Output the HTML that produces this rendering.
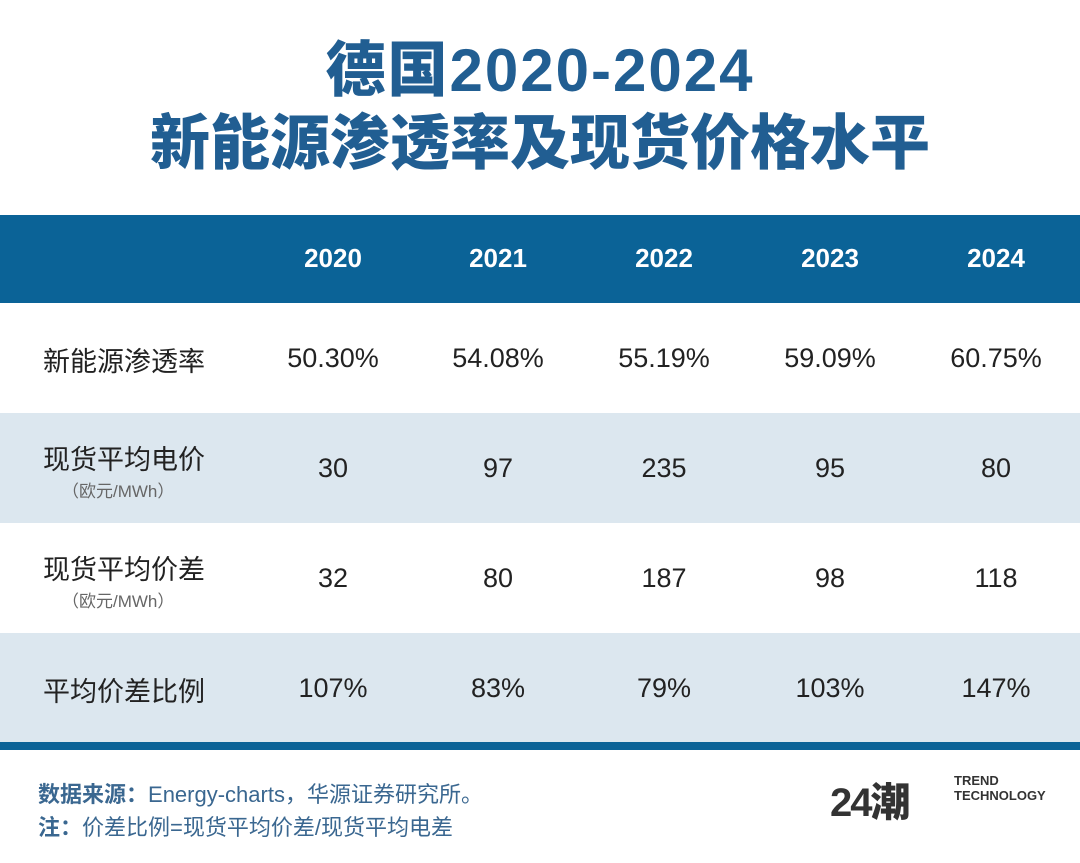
<!DOCTYPE html>
<html><head><meta charset="utf-8"><style>
body{margin:0;width:1080px;height:863px;background:#fff;position:relative;overflow:hidden;font-family:"Liberation Sans","Noto Sans CJK SC",sans-serif}
.t{position:absolute;left:0;width:1080px;text-align:center;color:#215e92;font-weight:900;font-size:60px;line-height:72px}
.band{position:absolute;left:0;width:1080px}
.c{position:absolute;width:166px;text-align:center;font-size:27px;color:#222;transform:translateX(-83px)}
.h{color:#fff;font-weight:bold;font-size:26px}
.l{position:absolute;left:43px;font-size:27px;color:#222}
.s{position:absolute;font-size:17px;color:#666;left:62px}
.f{position:absolute;left:38px;font-size:22px;color:#3a6790}
</style></head><body>
<div class="t" style="top:35px;letter-spacing:2px">德国2020-2024</div>
<div class="t" style="top:108px">新能源渗透率及现货价格水平</div>
<div class="band" style="top:215px;height:88px;background:#0b6397"></div>
<div class="band" style="top:413px;height:110px;background:#dce7ef"></div>
<div class="band" style="top:633px;height:109px;background:#dce7ef"></div>
<div class="band" style="top:742px;height:8px;background:#0b6397"></div>

<div class="c h" style="left:333px;top:243px">2020</div>
<div class="c h" style="left:498px;top:243px">2021</div>
<div class="c h" style="left:664px;top:243px">2022</div>
<div class="c h" style="left:830px;top:243px">2023</div>
<div class="c h" style="left:996px;top:243px">2024</div>

<div class="l" style="top:340px">新能源渗透率</div>
<div class="c" style="left:333px;top:343px">50.30%</div>
<div class="c" style="left:498px;top:343px">54.08%</div>
<div class="c" style="left:664px;top:343px">55.19%</div>
<div class="c" style="left:830px;top:343px">59.09%</div>
<div class="c" style="left:996px;top:343px">60.75%</div>

<div class="l" style="top:438px">现货平均电价</div>
<div class="s" style="top:477px">（欧元/MWh）</div>
<div class="c" style="left:333px;top:453px">30</div>
<div class="c" style="left:498px;top:453px">97</div>
<div class="c" style="left:664px;top:453px">235</div>
<div class="c" style="left:830px;top:453px">95</div>
<div class="c" style="left:996px;top:453px">80</div>

<div class="l" style="top:548px">现货平均价差</div>
<div class="s" style="top:587px">（欧元/MWh）</div>
<div class="c" style="left:333px;top:563px">32</div>
<div class="c" style="left:498px;top:563px">80</div>
<div class="c" style="left:664px;top:563px">187</div>
<div class="c" style="left:830px;top:563px">98</div>
<div class="c" style="left:996px;top:563px">118</div>

<div class="l" style="top:670px">平均价差比例</div>
<div class="c" style="left:333px;top:673px">107%</div>
<div class="c" style="left:498px;top:673px">83%</div>
<div class="c" style="left:664px;top:673px">79%</div>
<div class="c" style="left:830px;top:673px">103%</div>
<div class="c" style="left:996px;top:673px">147%</div>

<div class="f" style="top:777px"><b>数据来源：</b>Energy-charts，华源证券研究所。</div>
<div class="f" style="top:810px"><b>注：</b>价差比例=现货平均价差/现货平均电差</div>
<div style="position:absolute;left:830px;top:770px;font-size:40px;font-weight:900;color:#333;letter-spacing:-2px">24潮</div>
<div style="position:absolute;left:954px;top:773px;font-size:13px;font-weight:bold;color:#333;line-height:15px">TREND<br>TECHNOLOGY</div>
</body></html>
